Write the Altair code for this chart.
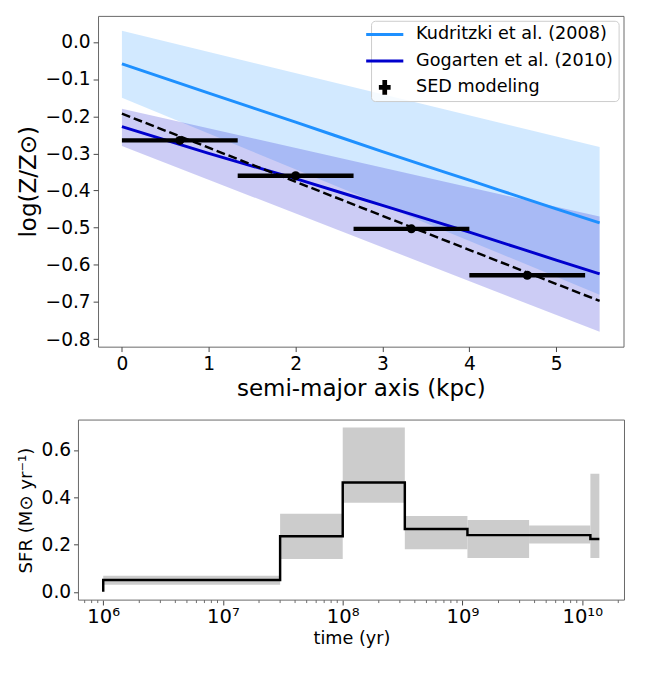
import altair as alt
import pandas as pd

# ---------------- top panel: metallicity gradient ----------------
grid_r = [0, 1, 2, 3, 4, 5, 5.5]
kud_line = [-0.059, -0.138, -0.216, -0.295, -0.372, -0.449, -0.487]
gog_line = [-0.228, -0.300, -0.368, -0.440, -0.512, -0.587, -0.624]

band_r = [0, 5.5]
kud_hi = [0.03, -0.283]
kud_lo = [-0.15, -0.68]
gog_hi = [-0.18, -0.47]
gog_lo = [-0.28, -0.78]

fit_r = [0, 5.5]
fit_z = [-0.193, -0.697]

sed_r = [0.667, 2.0, 3.333, 4.667]
sed_z = [-0.265, -0.360, -0.503, -0.628]
sed_lo = [0.0, 1.333, 2.667, 4.0]
sed_hi = [1.333, 2.667, 4.0, 5.333]

legend_names = ["Kudritzki et al. (2008)", "Gogarten et al. (2010)", "SED modeling"]
legend_colors = ["#1e90ff", "#0000cd", "#000000"]

# ---------------- bottom panel: SFH ----------------
bin_edges = [1e6, 3e7, 1e8, 3.3e8, 1.1e9, 3.6e9, 1.17e10, 1.39e10]
sfr = [0.050, 0.235, 0.463, 0.266, 0.240, 0.240, 0.224]
sfr_hi = [0.068, 0.331, 0.695, 0.321, 0.304, 0.281, 0.500]
sfr_lo = [0.030, 0.139, 0.377, 0.180, 0.143, 0.205, 0.143]

FONT = "DejaVu Sans"
FRAME = "#666666"

# ---- tables
df_kud = pd.DataFrame({"r": grid_r, "z": kud_line})
df_gog = pd.DataFrame({"r": grid_r, "z": gog_line})
df_band = pd.DataFrame({"r": band_r, "klo": kud_lo, "khi": kud_hi, "glo": gog_lo, "ghi": gog_hi})
df_fit = pd.DataFrame({"r": fit_r, "z": fit_z})
df_sed = pd.DataFrame({"r": sed_r, "z": sed_z, "lo": sed_lo, "hi": sed_hi})
df_leg = pd.DataFrame({"series": legend_names, "r": [0, 0, 0], "z": [0, 0, 0]})

TW, TH = 537, 338
xs_top = alt.Scale(domain=[-0.275, 5.775], nice=False, zero=False)
ys_top = alt.Scale(domain=[-0.82, 0.07], nice=False, zero=False)
ax_top_x = alt.Axis(values=[0, 1, 2, 3, 4, 5], format="d", title="semi-major axis (kpc)",
                    labelFontSize=19, titleFontSize=23.5, tickSize=5, labelPadding=3,
                    titlePadding=4, grid=False, domain=False, titleFontWeight="normal")
ax_top_y = alt.Axis(values=[0.0, -0.1, -0.2, -0.3, -0.4, -0.5, -0.6, -0.7, -0.8], format=".1f",
                    title="log(Z/Z⊙)", labelFontSize=19, titleFontSize=23.5, tickSize=5,
                    labelPadding=3, titlePadding=5, grid=False, domain=False,
                    titleFontWeight="normal")


def XT(f):
    return alt.X(f, type="quantitative", scale=xs_top, axis=ax_top_x)


def YT(f):
    return alt.Y(f, type="quantitative", scale=ys_top, axis=ax_top_y)


kband = alt.Chart(df_band).mark_area(color="#1e90ff", opacity=0.2).encode(
    x=XT("r"), y=YT("klo"), y2="khi")
gband = alt.Chart(df_band).mark_area(color="#0000cd", opacity=0.2).encode(
    x=XT("r"), y=YT("glo"), y2="ghi")
kline = alt.Chart(df_kud).mark_line(color="#1e90ff", strokeWidth=3, interpolate="monotone").encode(
    x=XT("r"), y=YT("z"))
gline = alt.Chart(df_gog).mark_line(color="#0000cd", strokeWidth=3, interpolate="monotone").encode(
    x=XT("r"), y=YT("z"))
fline = alt.Chart(df_fit).mark_line(color="black", strokeWidth=2.5, strokeDash=[9, 4]).encode(
    x=XT("r"), y=YT("z"))
ebar = alt.Chart(df_sed).mark_rule(color="black", strokeWidth=4.5).encode(
    x=XT("lo"), x2="hi", y=YT("z"))
pts = alt.Chart(df_sed).mark_circle(color="black", size=85, opacity=1).encode(x=XT("r"), y=YT("z"))

# legend handles: symmetric shapes
line_sym = "M-3,-0.24L3,-0.24L3,0.24L-3,0.24Z"
cross_sym = ("M-0.95,-0.38L-0.38,-0.38L-0.38,-1.2L0.38,-1.2L0.38,-0.38L0.95,-0.38"
             "L0.95,0.38L0.38,0.38L0.38,1.2L-0.38,1.2L-0.38,0.38L-0.95,0.38Z")
leg_props = dict(title=None, orient="top-right", offset=5,
                 titleFontSize=0, titlePadding=0,
                 labelFontSize=18, labelFont=FONT, labelColor="black", labelLimit=400,
                 symbolSize=160, symbolStrokeWidth=0, rowPadding=9,
                 padding=5, symbolOffset=0, labelOffset=23,
                 fillColor="rgba(255,255,255,0.8)", strokeColor="#cccccc",
                 cornerRadius=4)
leg = alt.Chart(df_leg).mark_point(filled=True, opacity=1).encode(
    x=XT("r"), y=YT("z"),
    color=alt.Color("series:N", scale=alt.Scale(domain=legend_names, range=legend_colors),
                    legend=alt.Legend(**leg_props)),
    shape=alt.Shape("series:N", scale=alt.Scale(domain=legend_names,
                                                range=[line_sym, line_sym, cross_sym]),
                    legend=alt.Legend(**leg_props)),
).transform_filter("false")

top = alt.layer(kband, gband, kline, gline, fline, ebar, pts, leg).properties(width=TW, height=TH)

# ---------------- bottom panel ----------------
# the lower panel reaches 20 px further left than the upper one
LEFT_EXTRA = 20
BW, BH = 538, 184
df_bins = pd.DataFrame({"t0": bin_edges[:-1], "t1": bin_edges[1:], "lo": sfr_lo, "hi": sfr_hi})
step_t, step_s = [bin_edges[0]], [0.0]
for i, s in enumerate(sfr):
    step_t += [bin_edges[i], bin_edges[i + 1]]
    step_s += [s, s]
df_step = pd.DataFrame({"t": step_t, "s": step_s, "i": list(range(len(step_t)))})
minor_vals = [m * 10.0 ** d for d in range(5, 11) for m in range(2, 10)
              if 6.2e5 <= m * 10.0 ** d <= 2.25e10]
df_minor = pd.DataFrame({"t": minor_vals})

xs_bot = alt.Scale(type="log", domain=[6.21e5, 2.254e10], nice=False, range=[-LEFT_EXTRA, BW])
ys_bot = alt.Scale(domain=[-0.035, 0.727], nice=False, zero=False)
sup_expr = ("'10' + (datum.value < 5e6 ? '⁶' : datum.value < 5e7 ? '⁷' : "
            "datum.value < 5e8 ? '⁸' : datum.value < 5e9 ? '⁹' : '¹⁰')")
ax_bot_x = alt.Axis(values=[1e6, 1e7, 1e8, 1e9, 1e10], labelExpr=sup_expr, title="time (yr)",
                    labelFontSize=20, titleFontSize=18, tickSize=5, labelPadding=2,
                    titlePadding=3, grid=False, domain=False, titleFontWeight="normal")
ax_bot_y = alt.Axis(values=[0.0, 0.2, 0.4, 0.6], format=".1f", title="SFR (M⊙ yr⁻¹)",
                    labelFontSize=19, titleFontSize=18.5, tickSize=5, labelPadding=3,
                    titlePadding=6, grid=False, domain=False, titleFontWeight="normal",
                    offset=LEFT_EXTRA)


def XB(f):
    return alt.X(f, type="quantitative", scale=xs_bot, axis=ax_bot_x)


def YB(f):
    return alt.Y(f, type="quantitative", scale=ys_bot, axis=ax_bot_y)


frame = alt.Chart(pd.DataFrame({"k": [0]})).mark_rect(
    filled=False, color=FRAME, strokeWidth=1).encode(
    x=alt.value(-LEFT_EXTRA), x2=alt.value(BW), y=alt.value(0), y2=alt.value(BH))
rects = alt.Chart(df_bins).mark_rect(color="#cccccc", opacity=1).encode(
    x=XB("t0"), x2="t1", y=YB("lo"), y2="hi")
step = alt.Chart(df_step).mark_line(color="black", strokeWidth=2.5).encode(
    x=XB("t"), y=YB("s"), order=alt.Order("i:Q"))
minor = alt.Chart(df_minor).mark_rule(color="#444444", strokeWidth=0.8).encode(
    x=XB("t"), y=alt.value(BH), y2=alt.value(BH + 3))

bottom = alt.layer(rects, step, minor, frame).properties(
    width=BW, height=BH, view=alt.ViewBackground(stroke="transparent"))

chart = alt.concat(top, bottom, columns=1).properties(
    spacing=19,
    padding={"left": 8, "top": 0, "right": 2, "bottom": 0},
).resolve_scale(color="independent", shape="independent").configure(
    font=FONT
).configure_view(stroke=FRAME, strokeWidth=1).configure_axis(
    tickColor="#444444", labelColor="black", titleColor="black", labelFont=FONT, titleFont=FONT
)

chart.save("out.html", embed_options={"renderer": "svg", "actions": False})
